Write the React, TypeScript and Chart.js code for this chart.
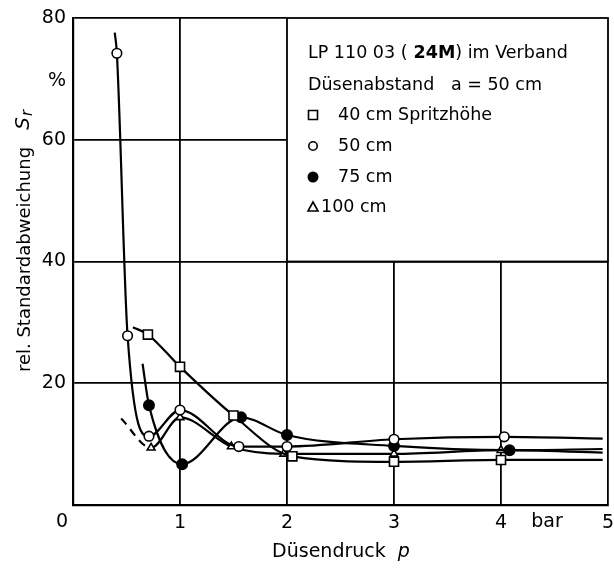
import React, { useEffect, useRef } from "react";
import { Chart, registerables } from "chart.js";

Chart.register(...registerables);

// ---- data ----
const xTickValues = [0, 1, 2, 3, 4, 5];
const yTickValues = [0, 20, 40, 60, 80];

// 40 cm Spritzhöhe (open squares)
const pressure40 = [0.7, 1.0, 1.5, 2.05, 3.0, 4.0];
const sr40 = [28.0, 22.7, 14.7, 8.0, 7.1, 7.4];
const curveStart40 = [0.56, 29.2];
const curveEnd40 = [4.95, 7.4];

// 50 cm (open circles)
const pressure50 = [0.41, 0.51, 0.71, 1.0, 1.55, 2.0, 3.0, 4.03];
const sr50 = [74.2, 27.8, 11.3, 15.6, 9.6, 9.6, 10.8, 11.2];
const curveStart50 = [0.39, 77.6];
const curveEnd50 = [4.95, 10.9];

// 75 cm (filled circles)
const pressure75 = [0.71, 1.02, 1.57, 2.0, 3.0, 4.08];
const sr75 = [16.4, 6.7, 14.4, 11.5, 9.7, 9.0];
const curveStart75 = [0.65, 23.2];
const curveEnd75 = [4.95, 9.2];

// 100 cm (open triangles), begins with a dashed stretch
const pressure100 = [0.73, 1.0, 1.48, 1.97, 3.0, 4.0];
const sr100 = [9.4, 14.4, 9.6, 8.4, 8.4, 9.0];
const curveStart100 = [0.45, 14.2];
const curveEnd100 = [4.95, 8.6];

const legendTitle1a = "LP 110 03 (";
const legendTitle1b = " 24M";
const legendTitle1c = ") im Verband";
const legendTitle2 = "Düsenabstand   a = 50 cm";
const legendRows = ["40 cm Spritzhöhe", "50 cm", "75 cm", "100 cm"];
const xTitle = "Düsendruck";
const xTitleSym = "p";
const yTitle = "rel. Standardabweichung";
const unitX = "bar";
const unitY = "%";

const FONT = "'DejaVu Sans', sans-serif";

function series(start: number[], xs: number[], ys: number[], end: number[]) {
  return [
    { x: start[0], y: start[1] },
    ...xs.map((x, i) => ({ x, y: ys[i] })),
    { x: end[0], y: end[1] },
  ];
}

const markerRadius = (r: number) => (ctx: any) =>
  ctx.dataIndex === 0 || ctx.dataIndex === ctx.dataset.data.length - 1 ? 0 : r;

function drawMarker(ctx: CanvasRenderingContext2D, kind: string, x: number, y: number) {
  ctx.save();
  ctx.lineWidth = 1.6;
  ctx.strokeStyle = "#000";
  ctx.fillStyle = "#000";
  ctx.beginPath();
  if (kind === "square") {
    ctx.rect(x - 4.5, y - 4.5, 9, 9);
    ctx.stroke();
  } else if (kind === "circle") {
    ctx.arc(x, y, 4.2, 0, Math.PI * 2);
    ctx.stroke();
  } else if (kind === "dot") {
    ctx.arc(x, y, 5.5, 0, Math.PI * 2);
    ctx.fill();
  } else {
    ctx.moveTo(x, y - 5);
    ctx.lineTo(x + 5, y + 4);
    ctx.lineTo(x - 5, y + 4);
    ctx.closePath();
    ctx.stroke();
  }
  ctx.restore();
}

const overlayPlugin = {
  id: "overlay",
  beforeDatasetsDraw(chart: any) {
    const { ctx, scales } = chart;
    const x = scales.x;
    const y = scales.y;
    const l = x.getPixelForValue(2);
    const r = x.getPixelForValue(5);
    const t = y.getPixelForValue(80);
    const b = y.getPixelForValue(40);
    ctx.save();
    ctx.fillStyle = "#fff";
    ctx.fillRect(l - 1, t - 6, r - l + 8, b - t + 6);
    ctx.strokeStyle = "#000";
    ctx.lineWidth = 1.8;
    ctx.strokeRect(l, t, r - l, b - t);
    ctx.fillStyle = "#000";
    ctx.textBaseline = "middle";
    ctx.textAlign = "left";
    const fs = 17.5;
    ctx.font = `${fs}px ${FONT}`;
    let cx = l + 21;
    ctx.fillText(legendTitle1a, cx, t + 35);
    cx += ctx.measureText(legendTitle1a).width;
    ctx.font = `bold ${fs}px ${FONT}`;
    ctx.fillText(legendTitle1b, cx, t + 35);
    cx += ctx.measureText(legendTitle1b).width;
    ctx.font = `${fs}px ${FONT}`;
    ctx.fillText(legendTitle1c, cx, t + 35);
    ctx.fillText(legendTitle2, l + 21, t + 67);
    const kinds = ["square", "circle", "dot", "triangle"];
    const rowY = [t + 97, t + 128, t + 159, t + 189];
    const textX = [l + 51, l + 51, l + 51, l + 34];
    kinds.forEach((k, i) => {
      drawMarker(ctx, k, l + 26, rowY[i]);
      ctx.fillText(legendRows[i], textX[i], rowY[i]);
    });
    ctx.restore();
  },
  afterDraw(chart: any) {
    const { ctx, chartArea } = chart;
    ctx.save();
    ctx.fillStyle = "#000";
    ctx.font = `19px ${FONT}`;
    ctx.textBaseline = "middle";
    ctx.textAlign = "center";
    // shared origin label
    ctx.fillText("0", chartArea.left - 11, chartArea.bottom + 17);
    ctx.fillText(unitX, chart.scales.x.getPixelForValue(4.43), chartArea.bottom + 17);
    ctx.fillText(unitY, chartArea.left - 16, chartArea.top + 63);
    // x title
    ctx.font = `19px ${FONT}`;
    const w1 = ctx.measureText(xTitle + "  ").width;
    ctx.font = `italic 19px ${FONT}`;
    const w2 = ctx.measureText(xTitleSym).width;
    const startX = 341 - (w1 + w2) / 2;
    ctx.textAlign = "left";
    ctx.font = `19px ${FONT}`;
    ctx.fillText(xTitle + "  ", startX, 552);
    ctx.font = `italic 19px ${FONT}`;
    ctx.fillText(xTitleSym, startX + w1, 552);
    // y title (rotated)
    ctx.translate(25, 241);
    ctx.rotate(-Math.PI / 2);
    ctx.font = `18px ${FONT}`;
    const a = ctx.measureText(yTitle + "   ").width;
    ctx.font = `italic 20px ${FONT}`;
    const s = ctx.measureText("S").width;
    ctx.font = `italic 15px ${FONT}`;
    const rr = ctx.measureText("r").width;
    const total = a + s + rr + 1;
    let px = -total / 2;
    ctx.font = `18px ${FONT}`;
    ctx.fillText(yTitle + "   ", px, 0);
    px += a;
    ctx.font = `italic 20px ${FONT}`;
    ctx.fillText("S", px, -1);
    px += s + 1;
    ctx.font = `italic 15px ${FONT}`;
    ctx.fillText("r", px, 3);
    ctx.restore();
  },
};

export default function App() {
  const ref = useRef<HTMLCanvasElement | null>(null);
  useEffect(() => {
    if (!ref.current) return;
    const base = {
      borderColor: "#000",
      borderWidth: 2.2,
      pointBorderColor: "#000",
      pointBorderWidth: 1.6,
      pointBackgroundColor: "#fff",
      cubicInterpolationMode: "monotone" as const,
      fill: false,
      showLine: true,
    };
    const chart = new Chart(ref.current, {
      type: "line",
      data: {
        datasets: [
          {
            ...base,
            label: "40 cm Spritzhöhe",
            data: series(curveStart40, pressure40, sr40, curveEnd40),
            pointStyle: "rect",
            pointRadius: markerRadius(6.4),
          },
          {
            ...base,
            label: "50 cm",
            data: series(curveStart50, pressure50, sr50, curveEnd50),
            pointStyle: "circle",
            pointRadius: markerRadius(4.8),
          },
          {
            ...base,
            label: "75 cm",
            data: series(curveStart75, pressure75, sr75, curveEnd75),
            pointStyle: "circle",
            pointBackgroundColor: "#000",
            pointRadius: markerRadius(5.2),
          },
          {
            ...base,
            label: "100 cm",
            data: series(curveStart100, pressure100, sr100, curveEnd100),
            pointStyle: "triangle",
            pointRadius: markerRadius(4.5),
            segment: {
              borderDash: (ctx: any) => (ctx.p0DataIndex === 0 ? [8, 6] : undefined),
            },
          },
        ],
      },
      options: {
        animation: false,
        responsive: false,
        layout: { padding: { top: 18, right: 6, left: 0, bottom: 0 } },
        plugins: { legend: { display: false }, tooltip: { enabled: false } },
        elements: { line: { tension: 0.4 } },
        scales: {
          x: {
            type: "linear",
            min: 0,
            max: 5,
            afterBuildTicks: (scale: any) => {
              scale.ticks = xTickValues.map((v) => ({ value: v }));
            },
            afterFit: (scale: any) => {
              scale.height = 68;
              scale.paddingLeft = 0;
              scale.paddingRight = 0;
            },
            ticks: {
              color: "#000",
              font: { family: FONT, size: 19 },
              padding: 7,
              maxRotation: 0,
              callback: (v: any) => (v === 0 ? "" : String(v)),
            },
            grid: { color: "#000", lineWidth: 1.8, drawTicks: false },
            border: { display: true, color: "#000", width: 2.2 },
          },
          y: {
            type: "linear",
            min: 0,
            max: 80,
            afterBuildTicks: (scale: any) => {
              scale.ticks = yTickValues.map((v) => ({ value: v }));
            },
            afterFit: (scale: any) => {
              scale.width = 73;
              scale.paddingTop = 0;
              scale.paddingBottom = 0;
            },
            ticks: {
              color: "#000",
              font: { family: FONT, size: 19 },
              padding: 7,
              callback: (v: any) => (v === 0 ? "" : String(v)),
            },
            grid: { color: "#000", lineWidth: 1.8, drawTicks: false },
            border: { display: true, color: "#000", width: 2.2 },
          },
        },
      },
      plugins: [overlayPlugin],
    } as any);
    return () => chart.destroy();
  }, []);
  return (
    <div style={{ position: "fixed", left: 0, top: 0, width: 614, height: 573, background: "#fff" }}>
      <canvas ref={ref} width={614} height={573} style={{ display: "block" }} />
    </div>
  );
}
